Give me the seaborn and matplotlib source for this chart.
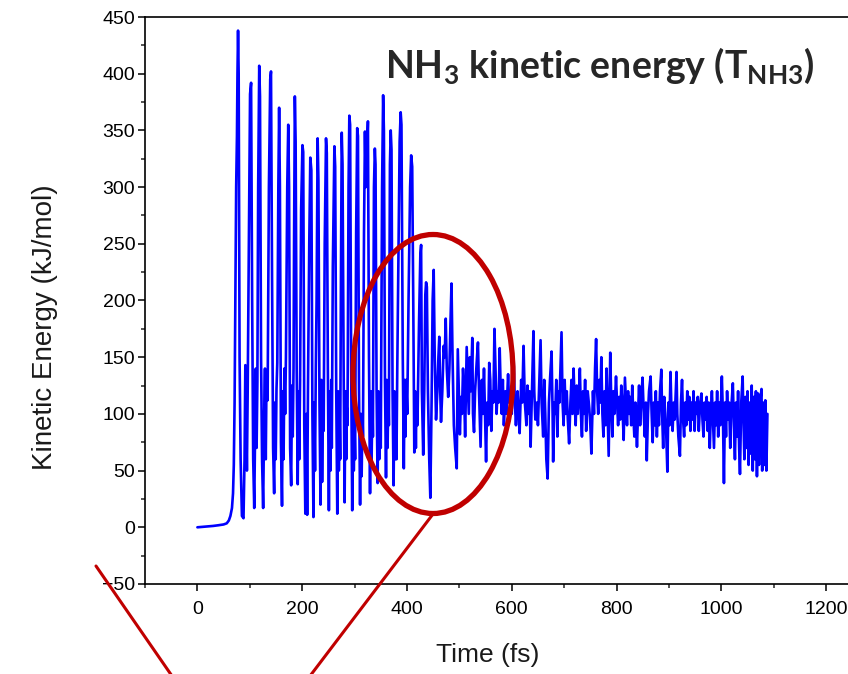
import numpy as np
import pandas as pd
import matplotlib
matplotlib.use("Agg")
import matplotlib.pyplot as plt
from matplotlib.patches import Ellipse
from matplotlib.lines import Line2D
import seaborn as sns

# NH3 kinetic energy trajectory, (time in fs, kinetic energy in kJ/mol)
ramp_phase = [
    (0, 0), (10, 0.4), (20, 0.8), (30, 1.2), (40, 1.8), (50, 2.5), (56, 3.5), (60, 6),
    (63, 10), (66, 17), (68, 30), (69.5, 55), (71, 110), (72.5, 200), (74, 300),
    (75.5, 345), (76.5, 400),
]

oscillation_phase = [
    (77.6, 438), (78.8, 400), (80.5, 150), (82.5, 60), (85, 10), (88, 8), (90, 60),
    (91.5, 143), (93, 100), (94.5, 50), (96, 120), (98, 240), (100.5, 382), (102.5, 392),
    (104.5, 200), (106.5, 60), (108.5, 17), (110, 80), (111.5, 140), (113, 70),
    (114.5, 128), (116, 300), (118, 407), (119.5, 380), (121.5, 150), (123.5, 58),
    (125.5, 17), (127.5, 100), (129, 140), (130.5, 60), (132, 135), (134, 112),
    (136.5, 300), (139, 395), (140.5, 402), (142.5, 220), (144.5, 70), (146.5, 30),
    (148, 110), (149.5, 60), (151, 122), (152.5, 145), (154.5, 300), (156, 370),
    (157.5, 300), (159.5, 75), (161.5, 19), (163, 120), (164.5, 60), (166, 140),
    (167.5, 100), (169, 150), (171.5, 300), (173.4, 355), (175, 300), (177, 70),
    (179, 37), (180.5, 125), (182, 80), (183.5, 140), (184.5, 250), (186, 380),
    (187.5, 340), (189.5, 140), (191.5, 38), (193, 120), (194.5, 60), (196, 130),
    (198, 280), (200.5, 337), (202, 331), (204, 90), (206, 12), (208, 100), (209.5, 11),
    (211, 120), (213.5, 250), (215.5, 326), (217.5, 315), (219.5, 100), (221.5, 9),
    (223, 110), (224.5, 50), (226, 140), (227.5, 200), (229.5, 343), (231, 306),
    (233, 110), (235, 20), (236.5, 130), (238, 40), (239.5, 100), (241, 85), (243, 250),
    (245.5, 343), (247, 330), (249, 140), (251, 15), (252.5, 120), (254, 50),
    (255.5, 130), (256.5, 70), (258.5, 230), (261.5, 336), (263, 318), (265, 120),
    (267, 12), (268.5, 120), (270, 50), (271.5, 95), (272.5, 60), (274, 220),
    (275.5, 348), (277, 320), (279, 150), (281, 22), (282.5, 120), (284, 60),
    (285.5, 105), (286.5, 90), (288.5, 300), (290, 363), (291.5, 355), (293.5, 140),
    (295.5, 15), (297, 110), (298.5, 50), (300, 85), (301, 60), (303, 260), (305, 352),
    (306.5, 345), (308.5, 120), (310.5, 20), (312, 100), (313.5, 45), (315, 100),
    (316, 80), (318, 260), (319.8, 349), (321.5, 300), (323.5, 330), (325.5, 358),
    (327.5, 150), (329.5, 30), (331, 120), (332.5, 60), (334, 110), (335, 80),
    (337, 300), (338.7, 334), (340, 320), (342, 120), (344, 39), (345.5, 120),
    (347, 60), (348.5, 95), (350, 70), (352.5, 300), (354.5, 381), (356, 350),
    (358, 130), (360, 44), (361.5, 130), (363, 70), (364.5, 120), (365.5, 90),
    (367.5, 320), (369, 350), (370.5, 333), (372.5, 120), (374.5, 37), (376, 120),
    (377.5, 60), (379, 100), (380, 60), (381.5, 140), (384, 250), (386, 340),
    (388, 366), (389.5, 355), (392, 150), (394, 52), (395.5, 130), (397, 80),
    (398.5, 130), (400.5, 100), (403, 200), (406, 300), (408, 328), (410, 318),
    (412, 200), (414, 66), (415.6, 120), (417, 70), (418, 110), (420, 90),
]

damping_phase = [
    (423, 180), (425.5, 240), (427, 249), (428.5, 120), (431, 64), (433, 120), (435, 205),
    (436.5, 216), (438, 212), (440, 120), (442.5, 60), (444.6, 26), (447, 110), (449, 200),
    (451, 227), (453, 150), (455.5, 95), (458, 120), (460, 150), (461.7, 168), (463.5, 120),
    (465, 93), (467.5, 120), (470, 160), (472, 150), (474, 184), (476, 140), (478.7, 115),
    (481, 140), (483, 180), (485, 215), (487, 150), (489.5, 90), (492, 70), (495, 52),
    (497, 157), (499, 120), (501, 82), (503, 115), (505, 100), (507, 140), (509, 120),
    (511, 80), (514, 159), (516, 130), (518, 100), (520, 150), (522, 120), (524.7, 167),
    (526, 100), (528, 84), (530, 120), (533, 145), (535.5, 163), (537.5, 120), (540.5, 71),
    (543, 130), (545, 100), (547, 140), (549, 100), (551, 58), (553, 110), (555, 90),
    (557, 145), (559, 130), (561, 85), (563, 120), (565, 110), (567, 175), (569, 140),
    (571, 100), (573, 120), (575, 110), (577, 158), (579, 120), (581, 100), (583, 130),
    (585, 90), (588, 120), (590, 100), (593, 135), (595, 110), (597, 120), (600, 100),
    (603.6, 149), (606, 110), (608, 90), (611, 120), (613, 100), (615, 83), (618, 130),
    (620, 110), (622.5, 160), (625, 110), (628, 90), (630, 125), (632, 100), (634, 120),
    (636, 71), (638, 110), (641.4, 173), (643, 120), (645, 95), (648, 110), (650, 90),
    (652, 120), (655, 165), (657, 110), (660, 80), (662, 130), (664, 100), (666, 60),
    (668.5, 43), (671, 110), (673, 130), (676, 155), (678, 100), (679, 58), (681, 110),
    (683, 100), (685, 130), (687, 80), (689, 120), (691, 110), (693, 140), (695, 172),
    (697, 110), (699, 90), (701, 130), (703, 100), (705, 120), (707, 95), (709.5, 74),
    (712, 110), (714, 130), (716, 100), (718, 140), (720, 110), (722, 90), (724, 125),
    (726, 100), (728, 115), (730, 140), (732, 100), (734, 80), (736, 120), (738, 100),
    (740, 130), (742, 85), (745, 120), (748, 105), (750, 90), (752, 65), (755, 120),
    (757, 100), (759, 140), (761, 166), (763, 120), (765, 100), (767, 130), (769, 110),
    (771, 150), (773, 100), (775, 80), (777, 120), (779, 90), (781, 140), (783, 100),
    (785, 63),
]

relaxed_phase = [
    (788, 154), (790, 110), (792, 80), (794, 120), (796, 100), (799, 133), (801, 110),
    (803, 90), (805, 115), (807, 95), (809, 125), (811, 110), (813.6, 77), (816, 132),
    (818, 110), (820, 90), (822, 120), (824, 100), (826, 115), (828, 90), (830, 125),
    (832, 100), (834, 80), (836, 110), (839, 71), (841, 100), (843, 125), (845, 90),
    (847, 110), (849.6, 132), (852, 100), (854, 80), (856, 110), (857.7, 59), (860, 100),
    (862, 120), (865, 133), (867, 100), (869, 75), (871, 110), (873, 90), (875, 120),
    (877, 80), (879, 110), (881, 90), (883, 120), (885.5, 139), (887, 100), (889, 70),
    (891, 115), (893, 100), (895, 80), (897, 49), (899, 110), (901, 90), (903, 137),
    (905, 100), (907, 85), (909, 110), (911, 95), (913, 120), (914.5, 137), (916, 100),
    (918, 80), (921, 63), (923, 110), (925, 130), (927, 95), (929, 80), (931, 110),
    (933, 90), (935, 120), (937, 95), (939, 115), (941, 85), (943, 110), (945, 95),
    (947, 120), (949, 85), (951, 110), (953, 100), (955, 115), (957, 85), (959, 105),
    (962, 118), (964, 95), (966, 80), (968, 110), (970, 95), (972, 115), (974, 85),
    (976, 110), (978, 70), (980, 100), (982, 120), (984, 95), (986, 70), (988, 110),
    (990, 90), (992, 120), (994, 80), (996, 110), (998, 90), (1001, 133), (1003, 100),
    (1005, 39), (1007, 110), (1009, 80), (1011, 120), (1013, 95), (1015, 110), (1017, 70),
    (1019, 105), (1022, 127), (1024, 90), (1026, 60), (1028, 110), (1030, 80), (1032, 120),
    (1034, 70), (1035.6, 47), (1038, 110), (1040.7, 133), (1042, 100), (1044, 60),
    (1046, 115), (1048, 70), (1050, 120), (1052, 55), (1054, 110), (1056, 65), (1058, 125),
    (1060, 50), (1062, 115), (1064, 60), (1066, 120), (1068, 45), (1070, 118), (1072, 55),
    (1074, 110), (1076.7, 122), (1078, 50), (1080, 110), (1082, 55), (1084, 112),
    (1086, 50), (1088, 100),
]

x_ticks = [0, 200, 400, 600, 800, 1000, 1200]
y_ticks = [-50, 0, 50, 100, 150, 200, 250, 300, 350, 400, 450]

trajectory = ramp_phase + oscillation_phase + damping_phase + relaxed_phase
df = pd.DataFrame(trajectory, columns=["Time (fs)", "Kinetic Energy (kJ/mol)"])

sns.set_style("ticks")
plt.rcParams["font.family"] = ["Liberation Sans", "DejaVu Sans"]
plt.rcParams["mathtext.fontset"] = "custom"
plt.rcParams["mathtext.rm"] = "Lato:bold"
plt.rcParams["mathtext.it"] = "Lato:bold"
plt.rcParams["mathtext.bf"] = "Lato:bold"

W, H = 848, 674
fig = plt.figure(figsize=(W / 100, H / 100), dpi=100)

# axes box in pixels: left spine 145, top 17, bottom 584; extends past the right edge
zero_px = 196
px_per_fs = (826 - zero_px) / 1200
left_px, top_px, bot_px = 145, 17, 584
x0 = -(zero_px - left_px) / px_per_fs
x1 = 1300
right_px = left_px + (x1 - x0) * px_per_fs
ax = fig.add_axes([left_px / W, 1 - bot_px / H, (right_px - left_px) / W, (bot_px - top_px) / H])

sns.lineplot(data=df, x="Time (fs)", y="Kinetic Energy (kJ/mol)", ax=ax,
             color="#0000FF", lw=1.9, sort=False, estimator=None)

ax.set_xlim(x0, x1)
ax.set_ylim(-50, 450)
ax.set_xticks(x_ticks)
ax.set_yticks(y_ticks)
ax.set_xticks(np.arange(-100, 1301, 100), minor=True)
ax.set_yticks(np.arange(-50, 451, 25), minor=True)
ax.tick_params(axis="both", which="major", direction="out", length=5, width=1.1,
               labelsize=14, colors="black")
ax.tick_params(axis="y", which="major", pad=2)
ax.tick_params(axis="x", which="major", pad=7)
ax.tick_params(axis="both", which="minor", direction="out", length=3, width=1.1)
for side in ["left", "bottom", "top"]:
    ax.spines[side].set_linewidth(1.2)
    ax.spines[side].set_color("black")
ax.spines["right"].set_visible(False)

ax.set_xlabel("Time (fs)", fontsize=19, color="#1a1a1a")
ax.set_ylabel("Kinetic Energy (kJ/mol)", fontsize=20, color="#1a1a1a")
ax.xaxis.set_label_coords((488 - left_px) / (right_px - left_px), -(655 - bot_px) / (bot_px - top_px))
ax.yaxis.set_label_coords(-(145 - 45) / (right_px - left_px), (584 - 327) / (bot_px - top_px))
ax.yaxis.label.set_va("center")
ax.xaxis.label.set_va("center")

fig.text(385 / W, 1 - 66 / H, r"NH$_3$ kinetic energy (T$_{\mathrm{NH3}}$)",
         fontsize=27, fontweight="bold", family="Lato", ha="left", va="center")

# highlight of the transition region and its call-out lines
red = "#C00000"
fig.patches.append(Ellipse((433 / W, 1 - 374 / H), 160 / W, 279 / H, transform=fig.transFigure,
                           fill=False, edgecolor=red, lw=3.8, zorder=5))
fig.lines.append(Line2D([433 / W, 310 / W], [1 - 514 / H, 1 - 676 / H], transform=fig.transFigure,
                        color=red, lw=2.2, zorder=5))
fig.lines.append(Line2D([96 / W, 172 / W], [1 - 566 / H, 1 - 676 / H], transform=fig.transFigure,
                        color=red, lw=2.2, zorder=5))

fig.savefig("out.png", dpi=100)
